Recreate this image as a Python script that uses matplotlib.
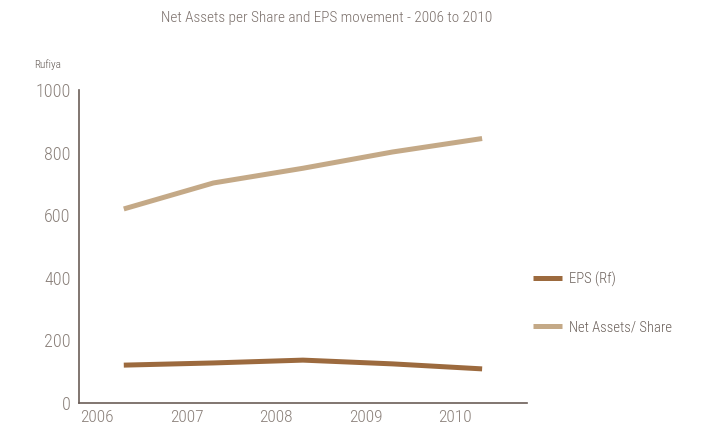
import matplotlib.pyplot as plt

years = ['2006', '2007', '2008', '2009', '2010']
eps = [121, 128, 137, 125, 109]
net_assets = [620, 703, 750, 802, 845]

plt.rcParams['font.family'] = ['DejaVu Sans Condensed', 'Roboto Condensed', 'Liberation Sans Narrow', 'Liberation Sans', 'DejaVu Sans']
plt.rcParams['font.weight'] = 'light'

axis_col = '#6b5e58'
text_col = '#8a807a'

fig = plt.figure(figsize=(7.13, 4.28), dpi=100)
ax = fig.add_axes([0.1108, 0.0584, 0.6282, 0.7313])

x = list(range(len(years)))
ax.plot(x, eps, color='#9c6a3e', lw=3.6, solid_capstyle='butt', label='EPS (Rf)')
ax.plot(x, net_assets, color='#c4a987', lw=3.6, solid_capstyle='butt', label='Net Assets/ Share')

ax.set_xlim(-0.5, 4.5)
ax.set_ylim(0, 1000)
ax.set_yticks([0, 200, 400, 600, 800, 1000])
ax.set_xticks([i - 0.3 for i in x])
ax.set_xticklabels(years)
ax.tick_params(axis='both', length=0, colors=text_col, labelsize=13)
ax.tick_params(axis='x', pad=5, labelsize=12.5)
ax.tick_params(axis='y', pad=6)

for s in ['top', 'right']:
    ax.spines[s].set_visible(False)
for s in ['left', 'bottom']:
    ax.spines[s].set_color(axis_col)
    ax.spines[s].set_linewidth(1.2)

fig.text(327 / 713, 1 - 18 / 428, 'Net Assets per Share and EPS movement - 2006 to 2010',
         ha='center', va='center', fontsize=11, color='#7a6f6a')
fig.text(34 / 713, 1 - 65 / 428, 'Rufiya', ha='left', va='center', fontsize=8, color='#5f5550')

leg = ax.legend(loc='upper left', bbox_to_anchor=(526 / 713, 1 - 264 / 428),
                bbox_transform=fig.transFigure, frameon=False, borderpad=0,
                fontsize=10.5, handlelength=2.0, handletextpad=0.45, labelspacing=2.3)
for t in leg.get_texts():
    t.set_color('#6b605a')

fig.savefig('out.png', dpi=100)
